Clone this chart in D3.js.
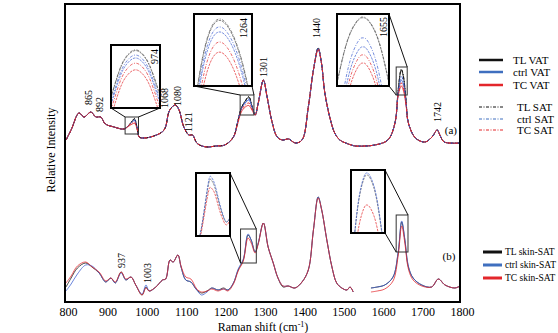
<!DOCTYPE html>
<html>
<head>
<meta charset="utf-8">
<script src="https://cdn.jsdelivr.net/npm/d3@7"></script>
<style>
  body { margin: 0; background: #fff; }
  svg { font-family: "Liberation Serif", "Times New Roman", serif; }
</style>
</head>
<body>
<svg id="drawing_region"></svg>
<script>
// ---- data (intensity in a.u., 0-100 per panel) ----
const xTicks = [800, 900, 1000, 1100, 1200, 1300, 1400, 1500, 1600, 1700, 1800];

// panel (a): VAT and SAT
const waveA = [800, 813, 833, 846, 863, 876, 888, 900, 922, 947,
  960, 968, 974, 980, 986, 998, 1023, 1049, 1061, 1069,
  1078, 1087, 1099, 1112, 1121, 1132, 1145, 1160, 1180, 1203,
  1225, 1235, 1245, 1255, 1264, 1272, 1280, 1288, 1301, 1310,
  1323, 1336, 1349, 1365, 1382, 1399, 1415, 1428, 1440, 1448,
  1457, 1470, 1482, 1495, 1510, 1534, 1559, 1584, 1617, 1635,
  1643, 1651, 1656, 1663, 1669, 1687, 1711, 1729, 1742, 1750,
  1760, 1800];
const tlSAT = [10, 20, 37, 33, 38, 33, 33, 26, 23, 21,
  25, 29, 31.5, 23, 13, 12, 14, 20, 38, 43,
  45, 40, 23, 15, 15, 7, 4, 3, 4, 5,
  13, 27, 42, 49, 53.5, 44, 35, 47, 70, 54,
  28, 13, 10, 11, 7, 10, 43, 80, 102, 88,
  57, 32, 17, 10, 7, 4, 4, 5, 10, 27,
  60, 81, 75, 50, 27, 12, 8, 13, 20, 14,
  8, 7];
const tlVAT = [10, 20, 37, 33, 38, 33, 33, 26, 23, 21,
  25, 29, 31, 23, 13, 12, 14, 20, 38, 43,
  45, 40, 23, 15, 15, 7, 4, 3, 4, 5,
  13, 27, 42, 49, 53, 44, 35, 47, 70, 54,
  28, 13, 10, 11, 7, 10, 43, 80, 102, 88,
  57, 32, 17, 10, 7, 4, 4, 5, 10, 27,
  60, 80, 74, 50, 27, 12, 8, 13, 20, 14,
  8, 7];
const ctrlSAT = [10, 20, 37, 33, 38, 33, 33, 26, 23, 21,
  25, 28, 30, 23, 13, 12, 14, 20, 38, 43,
  45, 40, 23, 15, 15, 7, 4, 3, 4, 5,
  13, 27, 41, 48, 51, 43, 35, 47, 70, 54,
  28, 13, 10, 11, 7, 10, 43, 80, 102, 88,
  57, 32, 17, 10, 7, 4, 4, 5, 10, 27,
  57, 74, 69, 48, 27, 12, 8, 13, 20, 14,
  8, 7];
const ctrlVAT = [10, 20, 37, 33, 38, 33, 33, 26, 23, 21,
  25, 28, 29.5, 23, 13, 12, 14, 20, 38, 43,
  45, 40, 23, 15, 15, 7, 4, 3, 4, 5,
  13, 27, 41, 47, 50, 43, 35, 47, 70, 54,
  28, 13, 10, 11, 7, 10, 43, 80, 101, 88,
  57, 32, 17, 10, 7, 4, 4, 5, 10, 27,
  56, 70, 66, 47, 27, 12, 8, 13, 20, 14,
  8, 7];
const tcSAT = [10, 20, 37, 33, 38, 33, 33, 26, 23, 21,
  25, 27, 28, 22, 13, 12, 14, 20, 38, 43,
  45, 40, 23, 15, 15, 7, 4, 3, 4, 5,
  13, 26, 40, 45, 47, 41, 35, 47, 70, 54,
  28, 13, 10, 11, 7, 10, 43, 80, 101, 88,
  57, 32, 17, 10, 7, 4, 4, 5, 10, 27,
  55, 67, 63, 46, 27, 12, 8, 13, 20, 14,
  8, 7];
const tcVAT = [10, 20, 37, 33, 38, 33, 33, 26, 23, 21,
  24, 26, 26.5, 22, 13, 12, 14, 20, 38, 43,
  45, 40, 23, 15, 15, 7, 4, 3, 4, 5,
  13, 25, 38, 43, 44.5, 40, 35, 47, 70, 54,
  28, 13, 10, 11, 7, 10, 43, 80, 100, 88,
  57, 32, 17, 10, 7, 4, 4, 5, 10, 27,
  54, 64, 60, 45, 27, 12, 8, 13, 20, 14,
  8, 7];

// panel (b): skin-SAT
const waveB = [800, 813, 829, 850, 866, 884, 901, 914, 925, 940,
  952, 965, 977, 993, 1003, 1011, 1028, 1045, 1053, 1064,
  1072, 1084, 1092, 1104, 1117, 1132, 1144, 1158, 1170, 1186,
  1200, 1211, 1225, 1237, 1250, 1262, 1270, 1280, 1288, 1301,
  1313, 1326, 1338, 1351, 1364, 1381, 1399, 1415, 1428, 1440,
  1449, 1462, 1475, 1487, 1500, 1513, 1521, 1529, 1550, 1574,
  1590, 1609, 1630, 1643, 1652, 1660, 1669, 1681, 1703, 1728,
  1745, 1762, 1787, 1800];
const tlSkin = [13, 22, 32, 37, 33, 27, 18, 22, 17, 28,
  20, 23, 15, 5, 13, 9, 13, 20, 21, 40,
  38, 45, 33, 20, 18, 10, 7, 9, 12, 10,
  12, 10, 17, 30, 40, 65, 60, 48, 57, 77,
  53, 37, 22, 13, 14, 12, 18, 30, 70, 103,
  90, 60, 33, 17, 12, 10, 13, 8, null, 12,
  13, 15, 23, 47, 78, 60, 33, 22, 15, 13,
  21, 15, 12, 14];
const ctrlSkin = [9, 16, 26, 35, 34, 27, 18, 22, 17, 27,
  20, 23, 15, 6, 15, 9, 13, 20, 21, 40,
  38, 45, 33, 20, 18, 10, 5, 8, 12, 10,
  11, 10, 17, 31, 41, 66, 60, 48, 57, 77,
  53, 37, 22, 14, 14, 12, 18, 30, 70, 103,
  90, 60, 33, 17, 12, 10, 13, 8, null, 12,
  13, 15, 23, 48, 79, 61, 34, 22, 15, 13,
  21, 15, 12, 14];
const tcSkin = [17, 24, 34, 38, 33, 28, 19, 22, 18, 28,
  21, 23, 15, 5, 12, 9, 13, 20, 21, 40,
  38, 45, 34, 23, 21, 11, 8, 9, 11, 9,
  11, 9, 16, 29, 39, 62, 57, 47, 56, 77,
  53, 37, 22, 14, 14, 12, 18, 30, 70, 102,
  90, 60, 33, 17, 12, 10, 13, 8, null, 8,
  9, 11, 19, 44, 74, 57, 31, 20, 14, 13,
  21, 15, 12, 14];

// zoomed-in peaks shown in the insets
const ins974Wave = [950, 956, 961, 967, 973, 978, 984];
const ins974 = {
  tlSAT: [19.0, 26.4, 30.1, 31.7, 30.1, 26.4, 19.5],
  tlVAT: [18.8, 26.2, 29.9, 31.5, 29.9, 26.2, 19.3],
  ctrlSAT: [17.6, 25.0, 28.7, 30.3, 28.7, 25.0, 18.1],
  ctrlVAT: [16.8, 24.2, 27.9, 29.5, 27.9, 24.2, 17.3],
  tcSAT: [15.4, 22.8, 26.5, 28.1, 26.5, 22.8, 15.9],
  tcVAT: [13.6, 21.0, 24.7, 26.3, 24.7, 21.0, 14.1]
};
const ins1264Wave = [1242, 1247, 1252, 1257, 1262, 1267, 1272, 1277];
const ins1264 = {
  tlSAT: [28.8, 42.6, 50.9, 53.6, 52.1, 47.6, 40.1, 29.6],
  tlVAT: [28.4, 42.2, 50.5, 53.2, 51.7, 47.2, 39.7, 29.2],
  ctrlSAT: [26.6, 40.4, 48.7, 51.4, 49.9, 45.4, 37.9, 27.4],
  ctrlVAT: [25.2, 39.0, 47.3, 50.0, 48.5, 44.0, 36.5, 26.0],
  tcSAT: [22.4, 36.2, 44.5, 47.2, 45.7, 41.2, 33.7, 23.2],
  tcVAT: [19.6, 33.4, 41.7, 44.4, 42.9, 38.4, 30.9, 20.4]
};
const ins1655Wave = [1638, 1642, 1646, 1650, 1652, 1654, 1658, 1662, 1666];
const ins1655 = {
  tlSAT: [56.3, 68.8, 77.1, 81.3, 81.8, 81.3, 77.1, 68.8, 56.3],
  tlVAT: [56.0, 68.5, 76.8, 81.0, 81.5, 81.0, 76.8, 68.5, 56.0],
  ctrlSAT: [37.0, 55.0, 67.0, 73.0, 73.7, 73.0, 67.0, 55.0, 37.0],
  ctrlVAT: [33.0, 51.2, 63.4, 69.4, 70.2, 69.4, 63.4, 51.2, 33.0],
  tcSAT: [30.0, 48.1, 60.3, 66.3, 67.1, 66.3, 60.3, 48.1, 30.0],
  tcVAT: [27.0, 44.9, 57.1, 63.1, 63.9, 63.1, 57.1, 44.9, 27.0]
};
const insB1264Wave = [1243, 1248, 1253, 1258, 1261, 1265, 1270, 1275, 1279, 1283];
const insB1264 = {
  tlSkin: [30, 38, 51.5, 65.5, 67.2, 63.5, 55, 47.5, 44.5, 47],
  ctrlSkin: [30, 38, 52, 67, 68.8, 65, 56, 48, 44.6, 47],
  tcSkin: [29, 36.5, 49, 61.5, 62.9, 60, 52, 45.5, 43, 45.5]
};
const insB1655Wave = [1638, 1642, 1646, 1650, 1652, 1654, 1658, 1662, 1666, 1668];
const insB1655 = {
  tlSkin: [24, 52, 71.3, 80.8, 82, 81.2, 75, 62.5, 44, 32],
  ctrlSkin: [24, 53, 72.4, 82, 83.2, 82.4, 76.2, 63.7, 45, 33],
  tcSkin: [14, 38.8, 55.2, 63.4, 64.4, 63.7, 58.5, 48, 32.3, 23]
};

const legendA = ['TL VAT', 'ctrl VAT', 'TC VAT', 'TL SAT', 'ctrl SAT', 'TC SAT'];
const legendB = ['TL skin-SAT', 'ctrl skin-SAT', 'TC skin-SAT'];

// ---- drawing ----
const BLACK = '#111', BLUE = '#3d5fd0', RED = '#e3262b';
const DASHDOT = '3,1.5,1,1.5';

const config = {
  width: 558, height: 333,
  frame: { left: 65, right: 460, top: 4, bottom: 302 }
};

const seriesA = [
  { key: 'tlVAT', values: tlVAT, color: BLACK, dash: null },
  { key: 'ctrlVAT', values: ctrlVAT, color: BLUE, dash: null },
  { key: 'tcVAT', values: tcVAT, color: RED, dash: null },
  { key: 'tlSAT', values: tlSAT, color: BLACK, dash: DASHDOT },
  { key: 'ctrlSAT', values: ctrlSAT, color: BLUE, dash: DASHDOT },
  { key: 'tcSAT', values: tcSAT, color: RED, dash: DASHDOT }
];
const seriesB = [
  { key: 'tlSkin', values: tlSkin, color: BLACK, dash: null },
  { key: 'ctrlSkin', values: ctrlSkin, color: BLUE, dash: null },
  { key: 'tcSkin', values: tcSkin, color: RED, dash: null }
];

const svg = d3.select('#drawing_region')
  .attr('width', config.width)
  .attr('height', config.height);

const xscale = d3.scaleLinear().domain([800, 1800]).range([66, 460]);
const yA = d3.scaleLinear().domain([0, 100]).range([150, 50]);
const yB = d3.scaleLinear().domain([0, 100]).range([300, 200]);

const f = config.frame;
svg.append('defs').append('clipPath').attr('id', 'plotclip')
  .append('rect')
  .attr('x', f.left).attr('y', f.top)
  .attr('width', f.right - f.left).attr('height', f.bottom - f.top);

function lineGen(xs, ys) {
  return d3.line()
    .defined(d => d[1] != null)
    .x(d => xs(d[0]))
    .y(d => ys(d[1]))
    .curve(d3.curveCatmullRom.alpha(0.5));
}

function drawSeries(g, wave, series, xs, ys, width) {
  const line = lineGen(xs, ys);
  series.forEach(s => {
    g.append('path')
      .datum(d3.zip(wave, s.values))
      .attr('d', line)
      .attr('fill', 'none')
      .attr('stroke', s.color)
      .attr('stroke-width', s.dash ? width : width * 0.85)
      .attr('stroke-dasharray', s.dash);
  });
}

const plot = svg.append('g').attr('clip-path', 'url(#plotclip)');
drawSeries(plot, waveA, seriesA, xscale, yA, 1);
drawSeries(plot, waveB, seriesB, xscale, yB, 0.9);

// insets: zoom window in data units -> box on the page
const insets = [
  { wave: ins974Wave, data: ins974, series: seriesA, ys: yA, wn: [950, 984], v: [16, 33],
    box: { x: 111, y: 45, w: 49, h: 63 }, link: 'bottom', label: '974', lx: 6, ly: 19 },
  { wave: ins1264Wave, data: ins1264, series: seriesA, ys: yA, wn: [1242, 1277], v: [35, 55],
    box: { x: 194, y: 14, w: 58, h: 72 }, link: 'bottom', label: '1264', lx: 9, ly: 24 },
  { wave: ins1655Wave, data: ins1655, series: seriesA, ys: yA, wn: [1638, 1666], v: [55, 83],
    box: { x: 337, y: 14, w: 52, h: 72 }, link: 'right', label: '1655', lx: 6, ly: 23 },
  { wave: insB1264Wave, data: insB1264, series: seriesB, ys: yB, wn: [1243, 1283], v: [37, 71],
    box: { x: 196, y: 173, w: 34, h: 63 }, link: 'right' },
  { wave: insB1655Wave, data: insB1655, series: seriesB, ys: yB, wn: [1638, 1668], v: [48, 85],
    box: { x: 351, y: 170, w: 34, h: 63 }, link: 'right' }
];

insets.forEach((ins, i) => {
  const sx0 = xscale(ins.wn[0]), sx1 = xscale(ins.wn[1]);
  const sy0 = ins.ys(ins.v[1]), sy1 = ins.ys(ins.v[0]);
  const b = ins.box;

  // small marker box on the spectrum
  svg.append('rect')
    .attr('x', sx0).attr('y', sy0)
    .attr('width', sx1 - sx0).attr('height', sy1 - sy0)
    .attr('fill', 'none').attr('stroke', '#333').attr('stroke-width', 1);

  let links;
  if (ins.link === 'bottom') {
    links = [[b.x, b.y + b.h, sx0, sy0], [b.x + b.w, b.y + b.h, sx1, sy0]];
  } else {
    links = [[b.x + b.w, b.y, sx1, sy0], [b.x + b.w, b.y + b.h, sx0, sy1]];
  }
  links.forEach(l => {
    svg.append('line')
      .attr('x1', l[0]).attr('y1', l[1]).attr('x2', l[2]).attr('y2', l[3])
      .attr('stroke', '#111').attr('stroke-width', 1);
  });

  svg.append('rect')
    .attr('x', b.x).attr('y', b.y).attr('width', b.w).attr('height', b.h)
    .attr('fill', '#fff');

  svg.append('defs').append('clipPath').attr('id', 'insclip' + i)
    .append('rect').attr('x', b.x).attr('y', b.y).attr('width', b.w).attr('height', b.h);

  const ix = d3.scaleLinear().domain(ins.wn).range([b.x, b.x + b.w]);
  const iy = d3.scaleLinear().domain(ins.v).range([b.y + b.h, b.y]);
  const g = svg.append('g').attr('clip-path', `url(#insclip${i})`);
  const line = lineGen(ix, iy).curve(d3.curveNatural);
  ins.series.forEach(s => {
    g.append('path')
      .datum(d3.zip(ins.wave, ins.data[s.key]))
      .attr('d', line)
      .attr('fill', 'none')
      .attr('stroke', s.color === BLACK ? '#555' : s.color)
      .attr('stroke-width', 0.7)
      .attr('stroke-dasharray', s.dash || '2.5,1');
  });

  svg.append('rect')
    .attr('x', b.x).attr('y', b.y).attr('width', b.w).attr('height', b.h)
    .attr('fill', 'none').attr('stroke', '#000').attr('stroke-width', 2);

  if (ins.label) {
    svg.append('text')
      .attr('transform', `translate(${b.x + b.w - ins.lx}, ${b.y + ins.ly}) rotate(-90)`)
      .attr('dy', '0.35em')
      .attr('font-size', 10)
      .text(ins.label);
  }
});

// peak labels: [text, wavenumber anchor, intensity at label foot]
const peakLayoutA = [['865', 856, 45], ['892', 884, 38], ['1068', 1051, 42], ['1080', 1082, 44],
  ['1121', 1110, 18], ['1301', 1300, 73], ['1440', 1437, 112], ['1742', 1744, 28]];
const peakLayoutB = [['937', 942, 32], ['1003', 1006, 17]];

function peakLabels(layout, ys) {
  layout.forEach(p => {
    svg.append('text')
      .attr('transform', `translate(${xscale(p[1])}, ${ys(p[2])}) rotate(-90)`)
      .attr('dy', '0.35em')
      .attr('font-size', 10)
      .text(p[0]);
  });
}
peakLabels(peakLayoutA, yA);
peakLabels(peakLayoutB, yB);

svg.append('text').attr('x', xscale(1777)).attr('y', yA(16))
  .attr('text-anchor', 'middle').attr('font-size', 11).text('(a)');
svg.append('text').attr('x', xscale(1772)).attr('y', yB(40))
  .attr('text-anchor', 'middle').attr('font-size', 11).text('(b)');

// frame
svg.append('rect')
  .attr('x', f.left).attr('y', f.top)
  .attr('width', f.right - f.left).attr('height', f.bottom - f.top)
  .attr('fill', 'none').attr('stroke', '#000').attr('stroke-width', 2);

// x axis
const xaxis = d3.axisBottom(xscale)
  .tickValues(xTicks)
  .tickSize(0)
  .tickPadding(5)
  .tickFormat(d3.format('d'));

svg.append('g')
  .attr('transform', `translate(0, ${f.bottom})`)
  .call(xaxis)
  .attr('font-family', '"Liberation Serif", serif')
  .attr('font-size', 12)
  .call(g => g.select('.domain').remove())
  .selectAll('text').attr('dx', 2).attr('fill', '#000');

svg.append('text')
  .attr('transform', 'translate(51, 150) rotate(-90)')
  .attr('text-anchor', 'middle')
  .attr('dy', '0.35em')
  .attr('font-size', 12)
  .text('Relative Intensity');

const xt = svg.append('text')
  .attr('x', 263).attr('y', 331)
  .attr('text-anchor', 'middle')
  .attr('font-size', 12);
xt.append('tspan').text('Raman shift (cm');
xt.append('tspan').attr('font-size', 8).attr('dy', -4).text('-1');
xt.append('tspan').attr('dy', 4).text(')');

// legends
const legA = svg.append('g');
const rowsA = [60, 72, 85, 107, 119, 130];
legendA.forEach((name, i) => {
  const s = seriesA[i];
  legA.append('line')
    .attr('x1', 479).attr('x2', 503).attr('y1', rowsA[i]).attr('y2', rowsA[i])
    .attr('stroke', s.color === BLUE ? '#3f6fbf' : s.color)
    .attr('stroke-width', s.dash ? 1 : 2.5)
    .attr('stroke-dasharray', s.dash);
  legA.append('text')
    .attr('x', s.dash ? 517 : 513).attr('y', rowsA[i])
    .attr('dy', '0.35em')
    .attr('font-size', 11)
    .text(name);
});

const legB = svg.append('g');
const rowsB = [252, 265, 278];
legendB.forEach((name, i) => {
  const s = seriesB[i];
  legB.append('line')
    .attr('x1', 483).attr('x2', 502).attr('y1', rowsB[i]).attr('y2', rowsB[i])
    .attr('stroke', s.color === BLUE ? '#3f6fbf' : s.color)
    .attr('stroke-width', 3);
  legB.append('text')
    .attr('x', 505).attr('y', rowsB[i])
    .attr('dy', '0.35em')
    .attr('font-size', 9.5)
    .text(name);
});
</script>
</body>
</html>
